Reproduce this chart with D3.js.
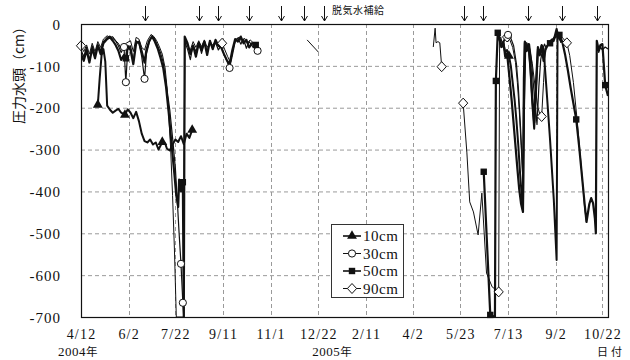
<!DOCTYPE html>
<html><head><meta charset="utf-8">
<script src="https://cdn.jsdelivr.net/npm/d3@7"></script>
<style>
html,body{margin:0;padding:0;background:#fff;}
svg{display:block;}
text{font-family:"Liberation Serif","DejaVu Serif",serif;fill:#111;}
.jp{font-family:"Noto Sans CJK JP",sans-serif;}
</style></head><body>
<svg id="chart" width="630" height="360"></svg>
<script>
// Observation period: days are counted from START
const START = "2004-04-12";
const END = "2005-10-28";

const xTickDates = ["2004-04-12","2004-06-02","2004-07-22","2004-09-11","2004-11-01","2004-12-22",
                    "2005-02-11","2005-04-02","2005-05-23","2005-07-13","2005-09-02","2005-10-22"];
const xTickLabels = ["4/12","6/2","7/22","9/11","11/1","12/22","2/11","4/2","5/23","7/13","9/2","10/22"];
const yTicks = [0,-100,-200,-300,-400,-500,-600,-700];

// Dates of degassed-water supply
const supplyDates = ["2004-06-19","2004-08-16","2004-09-06","2004-10-09","2004-11-12","2004-12-07",
                     "2004-12-28","2005-05-27","2005-06-16","2005-08-03","2005-09-09","2005-10-16"];

// Pressure head (cm) by depth: [day, value]; null = no record
const s10 = [[18,-193],[20,-130],[22,-75],[24,-60],[26,-90],[28,-195],[31,-205],[34,-212],[37,-207],[40,-203],
  [43,-212],[47,-217],[50,-204],[53,-212],[56,-225],[59,-210],[62,-232],[65,-262],[68,-280],[71,-283],[74,-276],
  [77,-288],[80,-283],[83,-300],[87,-282],[90,-285],[92,-298],[95,-302],[98,-288],[101,-276],[104,-282],[107,-268],
  [110,-287],[113,-262],[116,-272],[119,-253],
  null,
  [446,-18],[448,-40],[450,-55],[452,-45],[454,-68],[456,-62],[458,-76],[460,-100],[462,-140],[464,-180],[466,-230],
  [468,-290],[470,-360],[472,-420],[473,-445],[474,-200],[475,-45],[477,-65],[479,-52],[481,-110],[483,-190],
  [485,-250],[487,-160],[489,-60],[491,-75],[493,-50],[495,-58],[498,-150],[502,-277],[506,-420],[509,-564],
  [510,-20],[512,-30],[514,-45]];

const s30 = [[0,-62],[3,-78],[6,-55],[9,-88],[12,-52],[15,-74],[18,-48],[21,-64],[24,-42],[28,-32],[31,-29],
  [34,-34],[37,-40],[40,-52],[43,-68],[46,-55],[48,-139],[50,-62],[53,-52],[56,-88],[59,-40],[62,-46],[65,-78],
  [68,-131],[70,-72],[73,-45],[76,-28],[79,-36],[82,-52],[85,-68],[88,-92],[91,-140],[95,-205],[98,-272],
  [101,-345],[103,-420],[105,-500],[107,-573],[109,-666],[110,-700],[111,-42],[114,-60],[117,-85],[120,-50],
  [123,-66],[126,-44],[129,-70],[132,-46],[135,-66],[138,-40],[141,-58],[144,-44],[147,-62],[150,-52],[153,-72],
  [156,-88],[159,-105],[162,-75],[165,-42],[168,-34],[171,-48],[174,-36],[177,-58],[180,-42],[183,-52],[186,-58],
  [189,-64],
  null,
  [449,-30],[451,-48],[453,-36],[455,-30],[457,-26],[460,-34],[463,-52],[466,-95],[468,-150],[470,-230],[472,-320],
  [473,-380],[475,-150],[476,-45],[478,-62],[480,-48],[482,-85],[484,-140],[486,-190],[488,-240],[490,-150],
  [492,-85],[494,-62],[496,-48],[498,-58],[500,-46],[502,-40],[504,-36],[506,-42],[508,-30],[510,-28],[512,-38],
  [514,-35],
  null,
  [552,-45],[554,-68],[556,-56],[558,-62],[561,-55],[564,-60]];

const s50 = [[0,-72],[3,-88],[6,-62],[9,-92],[12,-58],[15,-82],[18,-52],[21,-72],[24,-46],[28,-36],[31,-32],
  [34,-40],[37,-50],[40,-64],[43,-86],[46,-74],[48,-82],[50,-52],[53,-62],[56,-96],[59,-46],[62,-42],[65,-66],
  [68,-92],[70,-62],[73,-40],[76,-30],[79,-42],[82,-58],[85,-80],[88,-105],[91,-150],[94,-215],[97,-290],
  [100,-360],[102,-410],[104,-437],[105,-372],[107,-400],[109,-378],[110,-700],[111,-30],[114,-46],[117,-72],
  [120,-52],[123,-78],[126,-46],[129,-62],[132,-42],[135,-74],[138,-40],[141,-60],[144,-38],[147,-52],[150,-56],
  [153,-72],[156,-86],[159,-96],[162,-62],[165,-36],[168,-42],[171,-30],[174,-46],[177,-38],[180,-56],[183,-46],
  [187,-50],
  null,
  [431,-353],[438,-695],[443,-700],[444,-136],[446,-21],[448,-35],[450,-55],[452,-42],[454,-78],[456,-70],
  [458,-115],[461,-185],[464,-265],[467,-345],[469,-395],[471,-430],[473,-449],[474,-130],[475,-42],[477,-58],
  [479,-48],[481,-100],[483,-175],[485,-235],[487,-140],[489,-55],[491,-72],[493,-52],[495,-88],[497,-62],
  [499,-52],[502,-46],[505,-40],[507,-30],[509,-12],[510,-26],[512,-26],[515,-42],[518,-72],[521,-110],[524,-152],
  [527,-190],[530,-228],[533,-290],[536,-360],[539,-430],[541,-473],[544,-430],[546,-416],[548,-428],[550,-465],
  [551,-500],[552,-40],[554,-62],[556,-50],[558,-48],[561,-146],[564,-172]];

const s90 = [[0,-52],[3,-66],[6,-50],[9,-72],[12,-46],[15,-66],[18,-42],[21,-56],[24,-36],[28,-28],[31,-33],
  [34,-30],[37,-40],[40,-46],[43,-60],[46,-50],[49,-45],[53,-40],[56,-66],[59,-32],[62,-36],[65,-56],[68,-62],
  [71,-40],[75,-25],[78,-30],[81,-40],[84,-55],[87,-72],[90,-105],[92,-150],[94,-220],[96,-300],[98,-410],
  [100,-540],[102,-700],[110,-700],[111,-38],[114,-52],[117,-62],[120,-42],[123,-56],[126,-40],[129,-54],
  [132,-38],[135,-56],[138,-45],[141,-50],[144,-40],[147,-48],[151,-46],[154,-62],[157,-78],[160,-92],[163,-56],
  [166,-36],[169,-32],[172,-42],[175,-34],[178,-46],[181,-38],[184,-44],[187,-48],
  null,
  [242,-38],[254,-67],
  null,
  [377,-55],[379,-10],[380,-45],[382,-42],[384,-45],[386,-102],
  null,
  [409,-189],[413,-308],[416,-425],[420,-449],[425,-504],[429,-404],[434,-595],[440,-628],[447,-640],[448,-40],
  [451,-50],[454,-36],[456,-31],[459,-38],[462,-56],[465,-92],[467,-140],[469,-205],[471,-290],[473,-380],
  [474,-220],[475,-55],[477,-44],[480,-58],[483,-95],[486,-150],[489,-200],[491,-215],[493,-221],[495,-140],
  [497,-60],[500,-48],[503,-40],[506,-32],[509,-24],[512,-30],[515,-32],[518,-40],[520,-45],[523,-75],[527,-140],
  [531,-230],[535,-330],[539,-440],[541,-475]];

// Days on which each series carries a marker
const mark10 = [18,47,87,119,458];
const mark30 = [46,48,68,107,109,159,189,457];
const mark50 = [48,109,187,431,438,444,446,502,512,530,561];
const mark90 = [0,151,386,409,447,456,493,520];

const seriesNames = ["10cm","30cm","50cm","90cm"];

// ---- drawing ----
const svg = d3.select("#chart");
const parse = d3.timeParse("%Y-%m-%d");
const t0 = parse(START);
const dayToDate = d => d3.timeDay.offset(t0, d);

const M = {left:81, right:608, top:24, bottom:317};
const x = d3.scaleTime().domain([t0, parse(END)]).range([M.left, M.right]);
const y = d3.scaleLinear().domain([-700, 0]).range([M.bottom, M.top]);

// grid
const grid = svg.append("g").attr("stroke","#9a9a9a").attr("stroke-width",1).attr("stroke-dasharray","4,3");
grid.selectAll("line.h").data(yTicks.filter(v => v !== 0 && v !== -700)).join("line")
  .attr("x1", M.left).attr("x2", M.right).attr("y1", d => y(d)+0.5).attr("y2", d => y(d)+0.5);
grid.selectAll("line.v").data(xTickDates.slice(1)).join("line")
  .attr("x1", d => Math.round(x(parse(d)))+0.5).attr("x2", d => Math.round(x(parse(d)))+0.5)
  .attr("y1", M.top).attr("y2", M.bottom);

// series
svg.append("clipPath").attr("id","plot").append("rect")
  .attr("x", M.left).attr("y", M.top-2).attr("width", M.right-M.left).attr("height", M.bottom-M.top+2);

const line = d3.line().defined(d => d !== null)
  .x(d => x(dayToDate(d[0]))).y(d => y(d[1]));

const styles = {
  "10cm": {data:s10, marks:mark10, width:2.0},
  "30cm": {data:s30, marks:mark30, width:1.2},
  "50cm": {data:s50, marks:mark50, width:2.2},
  "90cm": {data:s90, marks:mark90, width:1.0}
};

const gLines = svg.append("g").attr("clip-path","url(#plot)");
["90cm","30cm","50cm","10cm"].forEach(k => {
  gLines.append("path").datum(styles[k].data)
    .attr("d", line).attr("fill","none").attr("stroke","#111")
    .attr("stroke-width", styles[k].width).attr("stroke-linejoin","round");
});

// marker shapes
function drawMarker(g, kind, cx, cy) {
  if (kind === "10cm") {
    g.append("path").attr("d", d3.symbol(d3.symbolTriangle, 42)()).attr("transform",`translate(${cx},${cy})`)
      .attr("fill","#111");
  } else if (kind === "30cm") {
    g.append("circle").attr("cx",cx).attr("cy",cy).attr("r",3.6).attr("fill","#fff").attr("stroke","#111").attr("stroke-width",1);
  } else if (kind === "50cm") {
    g.append("rect").attr("x",cx-3.2).attr("y",cy-3.2).attr("width",6.4).attr("height",6.4).attr("fill","#111");
  } else {
    g.append("path").attr("d",`M${cx},${cy-5}L${cx+4.6},${cy}L${cx},${cy+5}L${cx-4.6},${cy}Z`)
      .attr("fill","#fff").attr("stroke","#111").attr("stroke-width",1);
  }
}

const gMarks = svg.append("g");
["90cm","30cm","50cm","10cm"].forEach(k => {
  const pts = styles[k].data.filter(d => d !== null);
  styles[k].marks.forEach(day => {
    const p = pts.find(d => d[0] === day);
    if (p) drawMarker(gMarks, k, x(dayToDate(p[0])), y(p[1]));
  });
});

// frame
svg.append("rect").attr("x",M.left+0.5).attr("y",M.top+0.5).attr("width",M.right-M.left).attr("height",M.bottom-M.top)
  .attr("fill","none").attr("stroke","#111").attr("stroke-width",1.2);

// y axis
const yAxis = svg.append("g").attr("transform",`translate(${M.left},0)`)
  .call(d3.axisLeft(y).tickValues(yTicks).tickSize(0).tickPadding(20).tickFormat(d => String(d)));
yAxis.select(".domain").remove();
yAxis.selectAll("text").attr("font-size",15).attr("letter-spacing","1px")
  .attr("font-family","'Liberation Serif',serif").attr("fill","#111").attr("dy","0.35em");

// x axis
const xAxis = svg.append("g").attr("transform",`translate(0,${M.bottom})`)
  .call(d3.axisBottom(x).tickValues(xTickDates.map(parse)).tickSize(0).tickPadding(12)
    .tickFormat((d,i) => xTickLabels[i]));
xAxis.select(".domain").remove();
xAxis.selectAll("text").attr("font-size",14).attr("letter-spacing","1.2px")
  .attr("font-family","'Liberation Serif',serif").attr("fill","#111");

// year labels under the axis
svg.append("text").attr("x", x(parse("2004-04-12"))-3).attr("y",356).attr("text-anchor","middle")
  .attr("font-size",13).attr("letter-spacing","0.5px").text("2004")
  .append("tspan").attr("class","jp").attr("font-size",11.5).text("年");
svg.append("text").attr("x", x(parse("2004-12-22"))-6).attr("y",356).attr("text-anchor","start")
  .attr("font-size",13).attr("letter-spacing","0.5px").text("2005")
  .append("tspan").attr("class","jp").attr("font-size",11.5).text("年");

// axis titles
svg.append("text").attr("class","jp").attr("transform","translate(24,72) rotate(-90)")
  .attr("text-anchor","middle").attr("font-size",14).text("圧力水頭（cm）");
svg.append("text").attr("class","jp").attr("x",597).attr("y",356).attr("font-size",11)
  .attr("letter-spacing","3px").text("日付");

// supply arrows
const gArr = svg.append("g").attr("stroke","#111").attr("stroke-width",1).attr("fill","none");
supplyDates.forEach(s => {
  const ax = Math.round(x(parse(s)))+0.5;
  gArr.append("line").attr("x1",ax).attr("x2",ax).attr("y1",6).attr("y2",21);
  gArr.append("path").attr("d",`M${ax-3},${16}L${ax},${21}L${ax+3},${16}`);
});
svg.append("text").attr("class","jp").attr("x", x(parse(supplyDates[6]))+8).attr("y",14)
  .attr("font-size",10).attr("letter-spacing","0.5px").text("脱気水補給");

// legend
const lg = svg.append("g").attr("transform","translate(331,224)");
lg.append("rect").attr("x",0.5).attr("y",0.5).attr("width",72).attr("height",73)
  .attr("fill","#fff").attr("stroke","#333").attr("stroke-width",1);
seriesNames.forEach((k,i) => {
  const ry = 12 + i*17.5;
  lg.append("line").attr("x1",12).attr("x2",30).attr("y1",ry).attr("y2",ry)
    .attr("stroke","#111").attr("stroke-width",k === "10cm" || k === "50cm" ? 1.6 : 1);
  drawMarker(lg, k, 21, ry);
  lg.append("text").attr("x",32).attr("y",ry).attr("dy","0.35em").attr("font-size",15)
    .attr("letter-spacing","0.5px").text(k);
});
</script></body></html>
